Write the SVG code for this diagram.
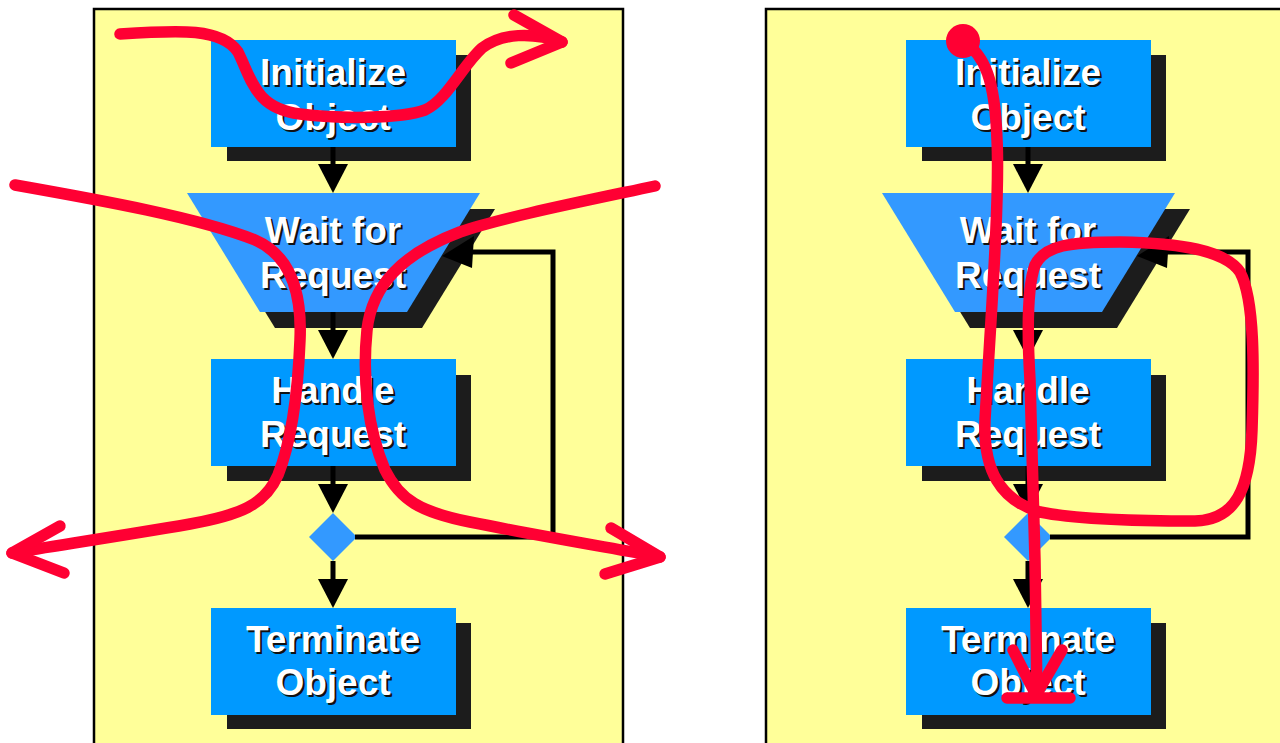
<svg xmlns="http://www.w3.org/2000/svg" width="1280" height="743" viewBox="0 0 1280 743">
<defs>
<style>
.panel{fill:#ffff99;stroke:#000;stroke-width:2.5}
.box{fill:#0099ff}
.trap{fill:#3399ff}
.shadow{fill:#1c1c1c}
.dia{fill:#3399ff}
.lbl{font-family:"Liberation Sans",Arial,sans-serif;font-weight:bold;font-size:37px;text-anchor:middle}
.ts{fill:#111}
.tw{fill:#fff}
.line{fill:none;stroke:#000;stroke-width:5}
.head{fill:#000}
.red{fill:none;stroke:#ff0033;stroke-width:11.5;stroke-linecap:round;stroke-linejoin:round}
</style>
</defs>
<rect width="1280" height="743" fill="#fff"/>
<g id="panel-left"><rect class="panel" x="94" y="9" width="529" height="750"/></g>
<g id="panel-right"><rect class="panel" x="766" y="9" width="530" height="750"/></g>

<g id="left-init">
<rect class="shadow" x="227" y="55" width="244" height="106"/>
<rect class="box" x="211" y="40" width="245" height="107"/>
<text class="lbl ts" x="335" y="87">Initialize</text><text class="lbl tw" x="333" y="85">Initialize</text>
<text class="lbl ts" x="335" y="132">Object</text><text class="lbl tw" x="333" y="130">Object</text>
</g>
<g id="left-wait">
<polygon class="shadow" points="202,209 495,209 422,328 275,328"/>
<polygon class="trap" points="187,193 480,193 407,312 260,312"/>
<text class="lbl ts" x="335" y="245">Wait for</text><text class="lbl tw" x="333" y="243">Wait for</text>
<text class="lbl ts" x="335" y="290">Request</text><text class="lbl tw" x="333" y="288">Request</text>
</g>
<g id="left-handle">
<rect class="shadow" x="227" y="375" width="244" height="106"/>
<rect class="box" x="211" y="359" width="245" height="107"/>
<text class="lbl ts" x="335" y="405">Handle</text><text class="lbl tw" x="333" y="403">Handle</text>
<text class="lbl ts" x="335" y="449">Request</text><text class="lbl tw" x="333" y="447">Request</text>
</g>
<g id="left-decision"><polygon class="dia" points="333,513 357,537 333,561 309,537"/></g>
<g id="left-term">
<rect class="shadow" x="227" y="623" width="244" height="106"/>
<rect class="box" x="211" y="608" width="245" height="107"/>
<text class="lbl ts" x="335" y="654">Terminate</text><text class="lbl tw" x="333" y="652">Terminate</text>
<text class="lbl ts" x="335" y="697">Object</text><text class="lbl tw" x="333" y="695">Object</text>
</g>

<g id="right-init">
<rect class="shadow" x="922" y="55" width="244" height="106"/>
<rect class="box" x="906" y="40" width="245" height="107"/>
<text class="lbl ts" x="1030" y="87">Initialize</text><text class="lbl tw" x="1028" y="85">Initialize</text>
<text class="lbl ts" x="1030" y="132">Object</text><text class="lbl tw" x="1028" y="130">Object</text>
</g>
<g id="right-wait">
<polygon class="shadow" points="897,209 1190,209 1117,328 970,328"/>
<polygon class="trap" points="882,193 1175,193 1102,312 955,312"/>
<text class="lbl ts" x="1030" y="245">Wait for</text><text class="lbl tw" x="1028" y="243">Wait for</text>
<text class="lbl ts" x="1030" y="290">Request</text><text class="lbl tw" x="1028" y="288">Request</text>
</g>
<g id="right-handle">
<rect class="shadow" x="922" y="375" width="244" height="106"/>
<rect class="box" x="906" y="359" width="245" height="107"/>
<text class="lbl ts" x="1030" y="405">Handle</text><text class="lbl tw" x="1028" y="403">Handle</text>
<text class="lbl ts" x="1030" y="449">Request</text><text class="lbl tw" x="1028" y="447">Request</text>
</g>
<g id="right-decision"><polygon class="dia" points="1028,513 1052,537 1028,561 1004,537"/></g>
<g id="right-term">
<rect class="shadow" x="922" y="623" width="244" height="106"/>
<rect class="box" x="906" y="608" width="245" height="107"/>
<text class="lbl ts" x="1030" y="654">Terminate</text><text class="lbl tw" x="1028" y="652">Terminate</text>
<text class="lbl ts" x="1030" y="697">Object</text><text class="lbl tw" x="1028" y="695">Object</text>
</g>

<g id="connectors">
<path class="line" d="M333,147 V166 M333,312 V332 M333,466 V486 M333,561 V581"/>
<polygon class="head" points="318,164 348,164 333,193"/>
<polygon class="head" points="318,330 348,330 333,359"/>
<polygon class="head" points="318,484 348,484 333,513"/>
<polygon class="head" points="318,579 348,579 333,608"/>
<path class="line" d="M355,537 H553 V252 H468"/>
<polygon class="head" points="442,256 474,236 472,268"/>
<path class="line" d="M1028,147 V166 M1028,312 V332 M1028,466 V486 M1028,561 V581"/>
<polygon class="head" points="1013,164 1043,164 1028,193"/>
<polygon class="head" points="1013,330 1043,330 1028,359"/>
<polygon class="head" points="1013,484 1043,484 1028,513"/>
<polygon class="head" points="1013,579 1043,579 1028,608"/>
<path class="line" d="M1050,537 H1248 V252 H1163"/>
<polygon class="head" points="1137,256 1169,236 1167,268"/>
</g>

<g id="red-marks">
<path class="red" d="M120,34 C180,30 222,28 238,52 C252,80 255,108 300,114 C340,119 400,119 425,110 C447,100 462,66 482,48 C502,33 532,32 562,42"/>
<path class="red" d="M514,15 L562,42 L511,63"/>
<path class="red" d="M15,185 C100,200 200,218 255,240 C292,256 302,295 300,340 C298,390 292,440 278,475 C265,505 240,515 190,524 C120,536 60,545 12,553"/>
<path class="red" d="M60,526 L12,553 L64,573"/>
<path class="red" d="M655,186 C580,202 500,218 460,232 C402,254 372,285 367,330 C362,380 368,430 385,470 C400,500 420,512 470,522 C540,536 600,546 660,557"/>
<path class="red" d="M611,528 L660,557 L605,574"/>
<circle cx="963" cy="41" r="17" fill="#ff0033"/>
<path class="red" d="M963,41 C985,55 995,80 997,140 C1000,200 990,330 985,420 C983,470 1000,500 1040,512 C1080,520 1150,521 1195,521 C1235,520 1250,490 1252,430 C1254,370 1255,300 1240,272 C1225,250 1180,243 1120,242 C1070,242 1045,245 1035,265 C1028,285 1027,330 1030,380 L1035,560 L1037,697"/>
<path class="red" d="M1013,650 L1036,695 L1062,650 M1007,698 H1070"/>
</g>
</svg>
